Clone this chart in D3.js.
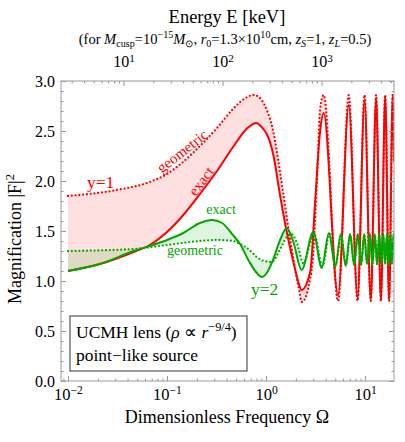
<!DOCTYPE html>
<html><head><meta charset="utf-8">
<script src="https://cdn.jsdelivr.net/npm/d3@7"></script>
<style>
body{margin:0;background:#fff}
svg{display:block}
text{font-family:"Liberation Serif","Times New Roman",serif}
</style>
</head><body><svg id="c" width="405" height="442"></svg>
<script>
// ---------------- data ----------------
const omegaDomain = [0.0085, 19.6];
const magDomain = [0, 3];
const keVPerOmega = 275;

const redGeoOmega = [0.01,0.031,0.067,0.1,0.145,0.215,0.32,0.464,0.6,0.75,0.9,1.017,1.186,1.331,1.495,1.68,1.888,2.119,2.3,2.9,3.25,3.52,3.82,5.34,6.85,8.4,9.88,11.42,12.93,14.46,15.96,17.5,19.0,19.6];
const redGeoMag   = [1.85,1.91,1.99,2.07,2.19,2.35,2.53,2.72,2.82,2.86,2.81,2.71,2.49,2.20,1.87,1.53,1.22,0.95,0.79,1.12,1.95,2.72,2.86,0.80,2.86,0.80,2.86,0.80,2.86,0.80,2.86,0.80,2.86,2.2];

const redExactOmega = [0.01,0.021,0.046,0.067,0.1,0.146,0.215,0.32,0.464,0.65,0.80,0.92,1.017,1.186,1.384,1.618,1.888,2.119,2.28,2.79,3.13,3.51,3.82,5.34,6.85,8.4,9.88,11.42,12.93,14.46,15.96,17.5,19.0,19.6];
const redExactMag   = [1.10,1.17,1.29,1.36,1.49,1.66,1.87,2.10,2.34,2.53,2.58,2.53,2.47,2.26,1.86,1.49,1.19,0.99,0.91,1.09,1.79,2.49,2.68,0.86,2.76,0.83,2.81,0.81,2.83,0.80,2.85,0.80,2.85,2.2];

const greenGeoOmega = [0.01,0.046,0.1,0.215,0.32,0.464,0.546,0.68,0.806,0.95,1.143,1.30,1.44,1.62,1.80,2.05,2.38,3.06,3.72,4.38,5.04,5.73,6.41,7.08,7.78,8.47,9.14,9.82,10.5,11.18,11.86,12.56,13.23,13.91,14.59,15.28,15.96,16.64,17.33,18.01,18.69,19.38,19.6];
const greenGeoMag   = [1.30,1.32,1.36,1.40,1.41,1.40,1.37,1.31,1.24,1.20,1.19,1.26,1.35,1.44,1.47,1.38,1.18,1.47,1.15,1.47,1.16,1.46,1.16,1.46,1.16,1.46,1.17,1.46,1.17,1.46,1.17,1.46,1.17,1.46,1.17,1.46,1.17,1.46,1.17,1.46,1.17,1.46,1.42];

const greenExactOmega = [0.01,0.021,0.046,0.067,0.1,0.146,0.215,0.285,0.36,0.464,0.546,0.68,0.806,0.905,1.017,1.186,1.40,1.62,1.888,2.29,3.0,3.65,4.32,5.0,5.7,6.38,7.05,7.75,8.45,9.12,9.8,10.48,11.17,11.85,12.55,13.22,13.9,14.58,15.27,15.95,16.63,17.32,18.0,18.68,19.37,19.6];
const greenExactMag   = [1.10,1.17,1.30,1.35,1.41,1.48,1.58,1.61,1.58,1.46,1.37,1.19,1.08,1.04,1.08,1.22,1.42,1.53,1.39,1.11,1.49,1.13,1.48,1.14,1.47,1.15,1.47,1.16,1.47,1.16,1.47,1.17,1.47,1.17,1.47,1.17,1.47,1.17,1.47,1.17,1.47,1.17,1.47,1.17,1.47,1.42];

const omegaMajorTicks = [0.01, 0.1, 1, 10];
const energyMajorTicks = [10, 100, 1000];
const magMajorTicks = [0, 0.5, 1, 1.5, 2, 2.5, 3];
const magMinorTicks = d3.range(0, 31).map(i => i / 10);

const RED = "#ff0000", GREEN = "#00a800";

// ---------------- layout ----------------
const X0 = 61, X1 = 394, Y0 = 81, Y1 = 381;
const svg = d3.select("#c");
const defs = svg.append("defs");

const x = d3.scaleLog().domain(omegaDomain).range([X0, X1]);
const xE = d3.scaleLog().domain(omegaDomain.map(o => o * keVPerOmega)).range([X0, X1]);
const y = d3.scaleLinear().domain(magDomain).range([Y1, Y0]);

function minorLog(scale) {
  const [a, b] = scale.domain();
  const out = [];
  for (let e = Math.floor(Math.log10(a)); e <= Math.ceil(Math.log10(b)); e++) {
    for (let m = 2; m <= 9; m++) {
      const v = m * Math.pow(10, e);
      if (v >= a && v <= b) out.push(v);
    }
  }
  return out;
}

function rich(sel, segs, size, supRaise = 0.4) {
  let shift = 0;
  segs.forEach(([t, st = ""]) => {
    const ts = sel.append("tspan").text(t);
    let target = 0, fs = size;
    if (st.includes("p")) { target = -supRaise * size; fs = size * 0.7; }
    if (st.includes("b")) { target = 0.2 * size; fs = size * 0.7; }
    ts.attr("dy", target - shift).attr("font-size", fs);
    if (st.includes("i")) ts.attr("font-style", "italic");
    shift = target;
  });
  if (shift !== 0) sel.append("tspan").attr("dy", -shift).text("");
}

defs.append("clipPath").attr("id", "plotClip").append("rect")
  .attr("x", X0).attr("y", Y0).attr("width", X1 - X0).attr("height", Y1 - Y0);

const pts = (o, m) => d3.zip(o, m);
const redGeo = pts(redGeoOmega, redGeoMag);
const redExact = pts(redExactOmega, redExactMag);
const greenGeo = pts(greenGeoOmega, greenGeoMag);
const greenExact = pts(greenExactOmega, greenExactMag);

const line = d3.line().x(d => x(d[0])).y(d => y(d[1])).curve(d3.curveMonotoneX);
const areaBelow = d3.area().x(d => x(d[0])).y0(Y1 + 60).y1(d => y(d[1])).curve(d3.curveMonotoneX);
const areaAbove = d3.area().x(d => x(d[0])).y0(Y0 - 60).y1(d => y(d[1])).curve(d3.curveMonotoneX);

const plot = svg.append("g").attr("clip-path", "url(#plotClip)");

function fillBetween(a, b, color, op, id) {
  defs.append("clipPath").attr("id", id + "A").append("path").attr("d", areaAbove(a));
  defs.append("clipPath").attr("id", id + "B").append("path").attr("d", areaAbove(b));
  const g = plot.append("g").attr("fill", color).attr("fill-opacity", op);
  g.append("path").attr("d", areaBelow(b)).attr("clip-path", `url(#${id}A)`);
  g.append("path").attr("d", areaBelow(a)).attr("clip-path", `url(#${id}B)`);
}
fillBetween(redExact, redGeo, RED, 0.12, "rf");
fillBetween(greenExact, greenGeo, "#00aa00", 0.12, "gf");

function drawLine(data, color, dotted) {
  const p = plot.append("path").attr("d", line(data)).attr("fill", "none")
    .attr("stroke", color).attr("stroke-width", dotted ? 2.3 : 2)
    .attr("stroke-linejoin", "round");
  if (dotted) p.attr("stroke-dasharray", "0 3.8").attr("stroke-linecap", "round");
}
drawLine(redGeo, RED, true);
drawLine(redExact, RED, false);
drawLine(greenGeo, GREEN, true);
drawLine(greenExact, GREEN, false);

// ---------------- axes ----------------
const TICK = "#999";
function styleAxis(g) {
  g.select(".domain").remove();
  g.selectAll(".tick line").attr("stroke", TICK);
  g.attr("font-family", null).attr("font-size", 16);
  g.selectAll(".tick text").attr("fill", "#000");
}
// bottom
const gB = svg.append("g").attr("transform", `translate(0,${Y1})`)
  .call(d3.axisBottom(x).tickValues(omegaMajorTicks).tickSizeInner(-5).tickSizeOuter(0).tickFormat(() => ""));
styleAxis(gB);
gB.selectAll(".tick text").attr("y", 19).attr("dy", null)
  .each(function(d) { rich(d3.select(this), [["10"], [String(Math.round(Math.log10(d))).replace("-", "\u2212"), "p"]], 16.5, 0.38); });
svg.append("g").attr("transform", `translate(0,${Y1})`)
  .call(d3.axisBottom(x).tickValues(minorLog(x)).tickSizeInner(-2.5).tickSizeOuter(0).tickFormat(() => ""))
  .call(styleAxis);
// top
const gT = svg.append("g").attr("transform", `translate(0,${Y0})`)
  .call(d3.axisTop(xE).tickValues(energyMajorTicks).tickSizeInner(-5).tickSizeOuter(0).tickFormat(() => ""));
styleAxis(gT);
gT.selectAll(".tick text").attr("y", -14).attr("dy", null)
  .each(function(d) { rich(d3.select(this), [["10"], [String(Math.round(Math.log10(d))), "p"]], 16, 0.33); });
svg.append("g").attr("transform", `translate(0,${Y0})`)
  .call(d3.axisTop(xE).tickValues(minorLog(xE)).tickSizeInner(-2.5).tickSizeOuter(0).tickFormat(() => ""))
  .call(styleAxis);
// left
svg.append("g").attr("transform", `translate(${X0},0)`)
  .call(d3.axisLeft(y).tickValues(magMajorTicks).tickSizeInner(-5).tickSizeOuter(0).tickPadding(6).tickFormat(d3.format(".1f")))
  .call(styleAxis);
svg.append("g").attr("transform", `translate(${X0},0)`)
  .call(d3.axisLeft(y).tickValues(magMinorTicks).tickSizeInner(-2.5).tickSizeOuter(0).tickFormat(() => ""))
  .call(styleAxis);
// right
svg.append("g").attr("transform", `translate(${X1},0)`)
  .call(d3.axisRight(y).tickValues(magMajorTicks).tickSizeInner(-5).tickSizeOuter(0).tickFormat(() => ""))
  .call(styleAxis);
svg.append("g").attr("transform", `translate(${X1},0)`)
  .call(d3.axisRight(y).tickValues(magMinorTicks).tickSizeInner(-2.5).tickSizeOuter(0).tickFormat(() => ""))
  .call(styleAxis);

svg.append("rect").attr("x", X0).attr("y", Y0).attr("width", X1 - X0).attr("height", Y1 - Y0)
  .attr("fill", "none").attr("stroke", TICK).attr("stroke-width", 1);

// ---------------- titles ----------------
svg.append("text").attr("x", 227).attr("y", 23).attr("text-anchor", "middle").attr("font-size", 18.5)
  .text("Energy E [keV]");
rich(svg.append("text").attr("x", 225).attr("y", 44).attr("text-anchor", "middle").attr("font-size", 14.5),
  [["(for "], ["M", "i"], ["cusp", "b"], ["=10"], ["\u221215", "p"], ["M", "i"], ["\u2299", "b"], [", "],
   ["r", "i"], ["0", "b"], ["=1.3\u00d710"], ["10", "p"], ["cm, "], ["z", "i"], ["S", "ib"], ["=1, "],
   ["z", "i"], ["L", "ib"], ["=0.5)"]], 14.5);
svg.append("text").attr("x", 227).attr("y", 423).attr("text-anchor", "middle").attr("font-size", 18)
  .text("Dimensionless Frequency \u03a9");
rich(svg.append("text").attr("transform", "translate(21,239) rotate(-90)").attr("text-anchor", "middle").attr("font-size", 18),
  [["Magnification |F|"], ["2", "p"]], 18);

// ---------------- curve labels ----------------
svg.append("text").attr("x", 87).attr("y", 188).attr("font-size", 17.5).attr("fill", RED).text("y=1");
svg.append("text").attr("x", 251).attr("y", 295).attr("font-size", 17.5).attr("fill", GREEN).text("y=2");
svg.append("text").attr("transform", "translate(183,152) rotate(-38)").attr("y", 4)
  .attr("text-anchor", "middle").attr("font-size", 15).attr("fill", RED).text("geometric");
svg.append("text").attr("transform", "translate(202,182) rotate(-53)").attr("y", 4)
  .attr("text-anchor", "middle").attr("font-size", 15).attr("fill", RED).text("exact");
svg.append("text").attr("x", 221).attr("y", 214).attr("text-anchor", "middle").attr("font-size", 14)
  .attr("fill", GREEN).text("exact");
svg.append("text").attr("x", 195).attr("y", 255).attr("text-anchor", "middle").attr("font-size", 14)
  .attr("fill", GREEN).text("geometric");

// ---------------- legend box ----------------
svg.append("rect").attr("x", 70).attr("y", 316).attr("width", 177).attr("height", 55)
  .attr("fill", "#fff").attr("stroke", "#333").attr("stroke-width", 1);
rich(svg.append("text").attr("x", 76).attr("y", 338).attr("font-size", 17.5),
  [["UCMH lens ("], ["\u03c1", "i"], [" \u221d "], ["r", "i"], ["\u22129/4", "p"], [")"]], 17.5);
svg.append("text").attr("x", 76).attr("y", 361).attr("font-size", 17.5).text("point\u2212like source");
</script></body></html>
